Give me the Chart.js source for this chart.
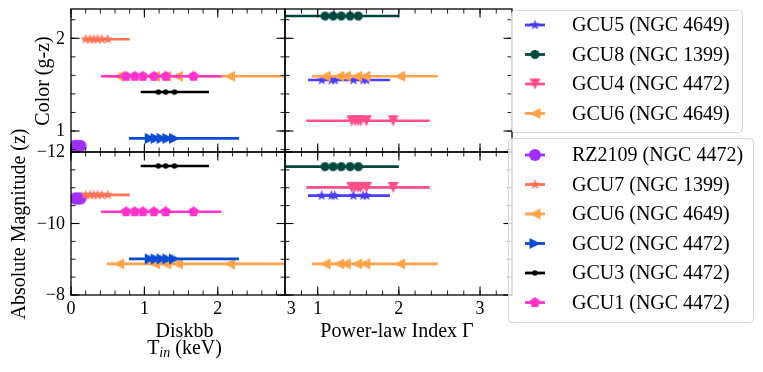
<!DOCTYPE html>
<html>
<head>
<meta charset="utf-8">
<script src="https://cdn.jsdelivr.net/npm/chart.js@4.4.1/dist/chart.umd.min.js"></script>
<style>
  body { margin: 0; background: #fff; }
  #fig { position: relative; width: 763px; height: 372px; }
  #fig canvas { position: absolute; left: 0; top: 0; }
</style>
</head>
<body>
<div id="fig">
  <canvas id="tl" width="763" height="372"></canvas>
  <canvas id="bl" width="763" height="372"></canvas>
  <canvas id="tr" width="763" height="372"></canvas>
  <canvas id="br" width="763" height="372"></canvas>
</div>
<script>
// sources fitted with a disc model (left column) and a power law (right column)
const labelsDisk = ['RZ2109 (NGC 4472)', 'GCU7 (NGC 1399)', 'GCU6 (NGC 4649)', 'GCU2 (NGC 4472)', 'GCU3 (NGC 4472)', 'GCU1 (NGC 4472)'];
const labelsPow = ['GCU5 (NGC 4649)', 'GCU8 (NGC 1399)', 'GCU4 (NGC 4472)', 'GCU6 (NGC 4649)'];

// Diskbb inner temperature, keV (one value per observation)
const tinRZ2109 = [0.05, 0.09, 0.13];
const tinGCU7 = [0.2, 0.26, 0.31, 0.36, 0.42, 0.5];
const tinGCU6 = [0.65, 1.14, 1.29, 1.45, 2.16];
const tinGCU2 = [1.08, 1.16, 1.24, 1.32, 1.41];
const tinGCU3 = [1.19, 1.29, 1.41];
const tinGCU1 = [0.75, 0.87, 0.98, 1.13, 1.29, 1.67];
// full span of the error bars [low, high]
const tinErr = [[0.02, 0.16], [0.16, 0.8], [0.49, 3.3], [0.79, 2.29], [0.95, 1.88], [0.41, 2.05]];

// power-law photon index
const gamGCU5 = [1.05, 1.17, 1.21, 1.44, 1.56, 1.6];
const gamGCU8 = [1.09, 1.19, 1.29, 1.4, 1.5];
const gamGCU4 = [1.42, 1.46, 1.5, 1.53, 1.6, 1.93];
const gamGCU6 = [1.09, 1.26, 1.34, 1.48, 1.58, 2.01];
const gamErr = [[0.88, 1.89], [0.4, 2.0], [0.86, 2.38], [0.93, 2.48]];

// optical properties of each cluster
const colorDisk = [0.84, 1.99, 1.59, 0.92, 1.42, 1.59];
const magDisk = [-10.7, -10.8, -8.87, -9.01, -11.61, -10.33];
const colorPow = [1.55, 2.24, 1.11, 1.59];
const magPow = [-10.78, -11.59, -11.01, -8.87];

// tick labels
const tinTicks = [0, 1, 2, 3];
const gamTicks = [1, 2, 3];
const colorTicks = [1, 2];
const magTicks = [-12, -10, -8];

// ---- styles ----
const W = 763, H = 372;
const SERIF = '"Liberation Serif", "DejaVu Serif", serif';
const diskStyle = [
  { color: '#9f2ffb', shape: 'circle', d: 12 },
  { color: '#ff7256', shape: 'star', d: 11 },
  { color: '#ffa24a', shape: 'left', d: 11 },
  { color: '#0b4bd4', shape: 'right', d: 11 },
  { color: '#000000', shape: 'circle', d: 5.5 },
  { color: '#ff33cc', shape: 'pentagon', d: 11 }
];
const powStyle = [
  { color: '#4b3df7', shape: 'star', d: 11 },
  { color: '#00483d', shape: 'circle', d: 9 },
  { color: '#ff4f8b', shape: 'down', d: 11 },
  { color: '#ffa24a', shape: 'left', d: 11 }
];

function markerImg(st) {
  const s = Math.ceil(st.d) + 2;
  const c = document.createElement('canvas');
  c.width = s; c.height = s;
  const g = c.getContext('2d');
  const cx = s / 2, cy = s / 2, r = st.d / 2;
  g.fillStyle = st.color;
  g.beginPath();
  const poly = pts => {
    pts.forEach(([px, py], i) => i ? g.lineTo(cx + px, cy + py) : g.moveTo(cx + px, cy + py));
    g.closePath();
  };
  if (st.shape === 'circle') g.arc(cx, cy, r, 0, Math.PI * 2);
  else if (st.shape === 'star' || st.shape === 'pentagon') {
    const n = st.shape === 'star' ? 10 : 5;
    const pts = [];
    for (let i = 0; i < n; i++) {
      const a = -Math.PI / 2 + i * 2 * Math.PI / n;
      const rr = (st.shape === 'star' && i % 2) ? r * 0.42 : r;
      pts.push([rr * Math.cos(a), rr * Math.sin(a)]);
    }
    poly(pts);
  } else if (st.shape === 'down') poly([[0, r], [-r, -r], [r, -r]]);
  else if (st.shape === 'left') poly([[-r, 0], [r, -r], [r, r]]);
  else if (st.shape === 'right') poly([[r, 0], [-r, -r], [-r, r]]);
  g.fill();
  return c;
}

const diskRows = labelsDisk.map((label, i) => ({
  label, xs: [tinRZ2109, tinGCU7, tinGCU6, tinGCU2, tinGCU3, tinGCU1][i], err: tinErr[i],
  color: colorDisk[i], mag: magDisk[i], st: diskStyle[i], img: markerImg(diskStyle[i])
}));
const powRows = labelsPow.map((label, i) => ({
  label, xs: [gamGCU5, gamGCU8, gamGCU4, gamGCU6][i], err: gamErr[i],
  color: colorPow[i], mag: magPow[i], st: powStyle[i], img: markerImg(powStyle[i])
}));

// one line dataset for the error bar, one scatter dataset for the markers
function buildDatasets(rows, key) {
  const ds = [];
  rows.forEach((r, k) => {
    const y = r[key];
    ds.push({ data: [{ x: r.err[0], y }, { x: r.err[1], y }], showLine: true, pointRadius: 0,
      borderColor: r.st.color, borderWidth: 2.6, clip: 0, order: 100 - 2 * k });
    ds.push({ data: r.xs.map(x => ({ x, y })), pointStyle: r.img, pointRadius: 5, clip: 0, order: 99 - 2 * k });
  });
  return ds;
}

function steps(min, max, step) {
  const out = [];
  for (let v = Math.ceil(min / step - 1e-9) * step; v <= max + 1e-9; v += step) out.push(+v.toFixed(6));
  return out;
}
const fmt = v => (v < 0 ? '\u2212' : '') + Math.abs(v);

function drawRuns(ctx, runs, cx, by, rot) {
  ctx.save();
  ctx.translate(cx, by);
  if (rot) ctx.rotate(rot);
  let total = 0;
  runs.forEach(r => { ctx.font = r.f + ' ' + SERIF; r.w = ctx.measureText(r.t).width; total += r.w; });
  let x = -total / 2;
  ctx.textAlign = 'left';
  ctx.textBaseline = 'alphabetic';
  ctx.fillStyle = '#000';
  runs.forEach(r => { ctx.font = r.f + ' ' + SERIF; ctx.fillText(r.t, x, r.dy || 0); x += r.w; });
  ctx.restore();
}

// frame, inward ticks on all sides, tick labels and axis titles
const panelFrame = {
  id: 'panelFrame',
  afterDatasetsDraw(chart, args, o) {
    const { ctx, chartArea: a } = chart;
    const xs = chart.scales.x, ys = chart.scales.y;
    ctx.save();
    ctx.strokeStyle = '#000';
    const seg = (x1, y1, x2, y2) => { ctx.beginPath(); ctx.moveTo(x1, y1); ctx.lineTo(x2, y2); ctx.stroke(); };
    const xTicks = (vals, len) => vals.forEach(v => {
      const p = xs.getPixelForValue(v);
      if (p < a.left - 0.5 || p > a.right + 0.5) return;
      seg(p, a.bottom, p, a.bottom - len); seg(p, a.top, p, a.top + len);
    });
    const yTicks = (vals, len) => vals.forEach(v => {
      const p = ys.getPixelForValue(v);
      if (p < a.top - 0.5 || p > a.bottom + 0.5) return;
      seg(a.left, p, a.left + len, p); seg(a.right, p, a.right - len, p);
    });
    ctx.lineWidth = 0.9;
    xTicks(steps(xs.min, xs.max, o.xMinor), 4.5);
    yTicks(steps(ys.min, ys.max, o.yMinor), 4.5);
    ctx.lineWidth = 1.1;
    xTicks(o.xMajor, 8.5);
    yTicks(o.yMajor, 8.5);
    ctx.lineWidth = 1.3;
    ctx.strokeRect(a.left, a.top, a.right - a.left, a.bottom - a.top);

    ctx.fillStyle = '#000';
    ctx.font = '18px ' + SERIF;
    if (o.xLabels) {
      ctx.textAlign = 'center'; ctx.textBaseline = 'alphabetic';
      o.xMajor.forEach(v => ctx.fillText(fmt(v), xs.getPixelForValue(v), a.bottom + 18.5));
    }
    if (o.yLabels) {
      ctx.textAlign = 'right'; ctx.textBaseline = 'middle';
      o.yMajor.forEach(v => ctx.fillText(fmt(v), a.left - 6, ys.getPixelForValue(v) + 0.5));
    }
    (o.titles || []).forEach(t => drawRuns(ctx, t.runs, t.x, t.y, t.rot));
    ctx.restore();
  }
};

function roundBox(ctx, x, y, w, h, r) {
  ctx.beginPath();
  ctx.moveTo(x + r, y);
  ctx.arcTo(x + w, y, x + w, y + h, r);
  ctx.arcTo(x + w, y + h, x, y + h, r);
  ctx.arcTo(x, y + h, x, y, r);
  ctx.arcTo(x, y, x + w, y, r);
  ctx.closePath();
}

const legendBoxes = {
  id: 'legendBoxes',
  afterDraw(chart, args, o) {
    const ctx = chart.ctx;
    o.boxes.forEach(b => {
      ctx.save();
      roundBox(ctx, b.x + 0.5, b.y + 0.5, b.w, b.h, 4);
      ctx.fillStyle = 'rgba(255,255,255,0.8)';
      ctx.fill();
      ctx.strokeStyle = '#d5d5d5';
      ctx.lineWidth = 1;
      ctx.stroke();
      b.rows.forEach((r, i) => {
        const y = b.y + b.first + i * b.step;
        ctx.strokeStyle = r.st.color;
        ctx.lineWidth = 2.8;
        ctx.beginPath(); ctx.moveTo(b.lx, y); ctx.lineTo(b.lx + 20, y); ctx.stroke();
        ctx.drawImage(r.img, b.lx + 10 - r.img.width / 2, y - r.img.height / 2);
        ctx.fillStyle = '#000';
        ctx.font = '20px ' + SERIF;
        ctx.textAlign = 'left';
        ctx.textBaseline = 'middle';
        ctx.fillText(r.label, b.tx, y + 1);
      });
      ctx.restore();
    });
  }
};

function makePanel(id, box, xr, yr, reverseY, datasets, frame, extra) {
  const plugins = { legend: { display: false }, tooltip: { enabled: false }, panelFrame: frame };
  if (extra) plugins.legendBoxes = extra;
  return new Chart(document.getElementById(id), {
    type: 'scatter',
    data: { datasets },
    options: {
      responsive: false,
      animation: false,
      events: [],
      layout: { padding: { left: box[0], top: box[1], right: W - box[2], bottom: H - box[3] } },
      scales: {
        x: { type: 'linear', min: xr[0], max: xr[1], display: false },
        y: { type: 'linear', min: yr[0], max: yr[1], reverse: reverseY, display: false }
      },
      plugins
    },
    plugins: extra ? [panelFrame, legendBoxes] : [panelFrame]
  });
}

const tinRange = [0, 2.916], gamRange = [0.597, 3.394];
const colorRange = [0.7735, 2.316], magRange = [-12, -8];

makePanel('tl', [71, 9, 285, 152], tinRange, colorRange, false, buildDatasets(diskRows, 'color'), {
  xMajor: tinTicks, xMinor: 0.2, yMajor: colorTicks, yMinor: 0.2, yLabels: true,
  titles: [{ runs: [{ t: 'Color (g-z)', f: '20px' }], x: 48.5, y: 81, rot: -Math.PI / 2 }]
});
makePanel('bl', [71, 152, 285, 295], tinRange, magRange, true, buildDatasets(diskRows, 'mag'), {
  xMajor: tinTicks, xMinor: 0.2, yMajor: magTicks, yMinor: 0.5, yLabels: true, xLabels: true,
  titles: [
    { runs: [{ t: 'Absolute Magnitude (z)', f: '20px' }], x: 25, y: 224, rot: -Math.PI / 2 },
    { runs: [{ t: 'Diskbb', f: '20px' }], x: 184.5, y: 337 },
    { runs: [{ t: 'T', f: '20px' }, { t: 'in', f: 'italic 14px', dy: 3 }, { t: ' (keV)', f: '20px' }], x: 184.5, y: 353.5 }
  ]
});
makePanel('tr', [285, 9, 512, 152], gamRange, colorRange, false, buildDatasets(powRows, 'color'), {
  xMajor: gamTicks, xMinor: 0.2, yMajor: colorTicks, yMinor: 0.2
});
makePanel('br', [285, 152, 512, 295], gamRange, magRange, true, buildDatasets(powRows, 'mag'), {
  xMajor: gamTicks, xMinor: 0.2, yMajor: magTicks, yMinor: 0.5, xLabels: true,
  titles: [{ runs: [{ t: 'Power-law Index \u0393', f: '20px' }], x: 397, y: 337 }]
}, {
  boxes: [
    { x: 511, y: 10, w: 231, h: 122, first: 15, step: 29.5, lx: 525, tx: 572, rows: powRows },
    { x: 508, y: 138, w: 245, h: 184, first: 17, step: 29.5, lx: 525, tx: 572, rows: diskRows }
  ]
});
</script>
</body>
</html>
